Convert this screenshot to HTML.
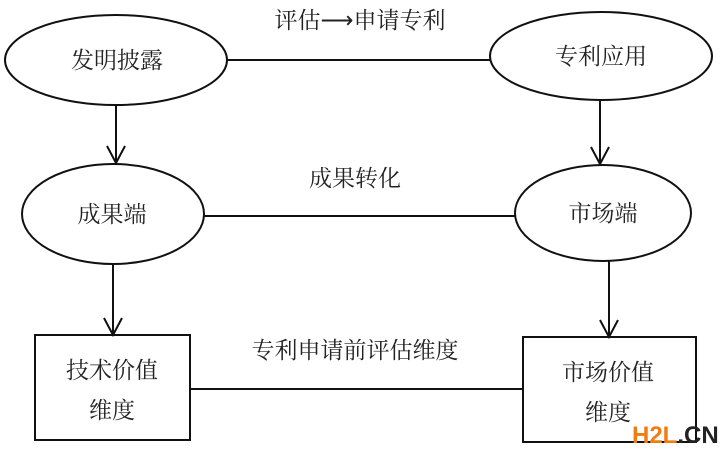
<!DOCTYPE html>
<html><head><meta charset="utf-8"><style>
body{margin:0;background:#fff;}
svg text{font-family:"Liberation Serif","Noto Serif CJK SC",serif;fill:#222;}
</style></head><body>
<svg width="720" height="453" viewBox="0 0 720 453" xmlns="http://www.w3.org/2000/svg">
<g fill="none" stroke="#111" stroke-width="2">
<ellipse cx="116" cy="60" rx="111" ry="45"/>
<ellipse cx="601" cy="56" rx="111" ry="44"/>
<ellipse cx="113" cy="214" rx="91" ry="50"/>
<ellipse cx="603" cy="213" rx="88" ry="48"/>
<rect x="35" y="335" width="155" height="105"/>
<rect x="523" y="337" width="173" height="105"/>
<line x1="227" y1="60" x2="490" y2="60"/>
<line x1="204" y1="216" x2="515" y2="216"/>
<line x1="190" y1="389" x2="523" y2="389"/>
<line x1="116" y1="105" x2="116" y2="163"/>
<polyline points="107,146 116,163 125,146"/>
<line x1="600" y1="100" x2="600" y2="164"/>
<polyline points="591,147 600,164 609,147"/>
<line x1="113" y1="264" x2="113" y2="335"/>
<polyline points="104,318 113,335 122,318"/>
<line x1="609" y1="261" x2="609" y2="337"/>
<polyline points="600,320 609,337 618,320"/>
</g>
<g font-size="23" text-anchor="middle">
<text x="117" y="68">发明披露</text>
<text x="601" y="64">专利应用</text>
<text x="112" y="222">成果端</text>
<text x="603" y="221">市场端</text>
<text x="360" y="28">评估⟶申请专利</text>
<text x="355" y="186">成果转化</text>
<text x="355" y="358">专利申请前评估维度</text>
<text x="112" y="378">技术价值</text>
<text x="112" y="418">维度</text>
<text x="608" y="380">市场价值</text>
<text x="608" y="420">维度</text>
</g>
<text x="632" y="443" font-size="24" font-weight="bold" style="fill:#f07c14;font-family:'Liberation Sans',sans-serif">H2L<tspan style="fill:#222">.CN</tspan></text>
</svg>
</body></html>
